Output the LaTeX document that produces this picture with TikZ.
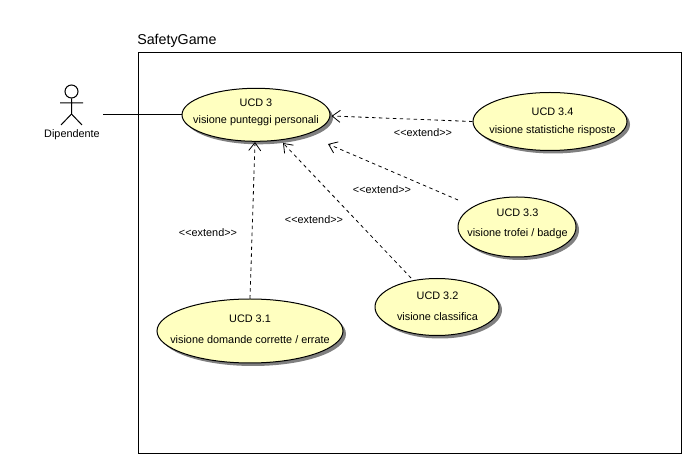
\documentclass[tikz,border=0pt]{standalone}
\usepackage{fontspec}
\setmainfont{Liberation Sans}
\usetikzlibrary{arrows.meta,shapes.geometric,shadows}
\definecolor{ucfill}{HTML}{FFFFC0}
\definecolor{ucshadow}{HTML}{808080}
\newdimen\ucpx \ucpx=0.75pt
\newcommand{\uctext}[5]{\makebox[0pt]{\kern#5\ucpx\kern#5\ucpx\raisebox{#3\ucpx}[0pt][0pt]{#1}}\makebox[0pt]{\kern#5\ucpx\kern#5\ucpx\raisebox{#4\ucpx}[0pt][0pt]{#2}}}
\newcommand{\extendtext}{<{}<extend>{}>}
\tikzset{
  x=0.75pt,y=-0.75pt,
  every node/.style={font=\fontsize{8.15pt}{9.5pt}\selectfont},
  usecase/.style={ellipse,draw=black,line width=0.75pt,fill=ucfill,inner sep=0pt,
    drop shadow={shadow xshift=2.25pt,shadow yshift=-2.25pt,opacity=1,fill=ucshadow}},
  extendline/.style={line width=0.6pt,dash pattern=on 2.6pt off 2.6pt,
    -{Straight Barb[length=6pt,width=9pt,line width=0.6pt]}},
  assocline/.style={line width=0.75pt},
  stereo/.style={inner sep=0pt},
  actorline/.style={line width=0.75pt}
}
\begin{document}
\begin{tikzpicture}
\useasboundingbox[fill=white] (0,0) rectangle (700,466);
% system boundary
\node[draw=black,line width=0.75pt,inner sep=0pt,minimum width=543*0.75pt,minimum height=401*0.75pt] (frame) at (410,253.5) {};
\node[inner sep=0pt,anchor=base west,font=\fontsize{10.7pt}{12pt}\selectfont] (title) at (137,45) {SafetyGame};
% actor
\node[circle,draw=black,line width=0.75pt,minimum size=13*0.75pt,inner sep=0pt] (head) at (71.5,91.5) {};
\coordinate (hip) at (71.5,114);
\coordinate (larm) at (60,103);
\coordinate (rarm) at (83,103);
\coordinate (lleg) at (61,125);
\coordinate (rleg) at (82,125);
\draw[actorline] (head.south) -- (hip) (larm) -- (rarm) (lleg) -- (hip) -- (rleg);
\node[inner sep=0pt] (actor) at (72,134.5) {Dipendente};
\coordinate (actorend) at (103,114.8);
% use cases
\node[usecase,minimum width=148*0.75pt,minimum height=53*0.75pt] (u3) at (256,114.8) {\uctext{UCD 3}{visione punteggi personali}{7.8}{-9.2}{0}};
\node[usecase,minimum width=154*0.75pt,minimum height=58*0.75pt] (u34) at (550,121.5) {\uctext{UCD 3.4}{visione statistiche risposte}{5.5}{-12}{2.5}};
\node[usecase,minimum width=118*0.75pt,minimum height=60*0.75pt] (u33) at (517,227) {\uctext{UCD 3.3}{visione trofei / badge}{10}{-10}{0.5}};
\node[usecase,minimum width=124*0.75pt,minimum height=57*0.75pt] (u32) at (437,307) {\uctext{UCD 3.2}{visione classifica}{7}{-14}{0.5}};
\node[usecase,minimum width=186*0.75pt,minimum height=64*0.75pt] (u31) at (250,331) {\uctext{UCD 3.1}{visione domande corrette / errate}{8}{-12.7}{0}};
% connector ends
\coordinate (s33) at (458,200);
\coordinate (s32) at (411,278);
\coordinate (t34) at (331.5,116);
\coordinate (t33) at (328,144);
\coordinate (t32) at (283,143);
\coordinate (t31) at (255,142);
% connectors
\draw[assocline] (actorend) -- (u3.west);
\draw[extendline] (u34.west) -- (t34);
\draw[extendline] (s33) -- (t33);
\draw[extendline] (s32) -- (t32);
\draw[extendline] (u31.north) -- (t31);
% labels
\node[stereo] (e34) at (423,133) {\extendtext};
\node[stereo] (e33) at (382,190) {\extendtext};
\node[stereo] (e32) at (314,220) {\extendtext};
\node[stereo] (e31) at (208,233) {\extendtext};
\end{tikzpicture}
\end{document}
